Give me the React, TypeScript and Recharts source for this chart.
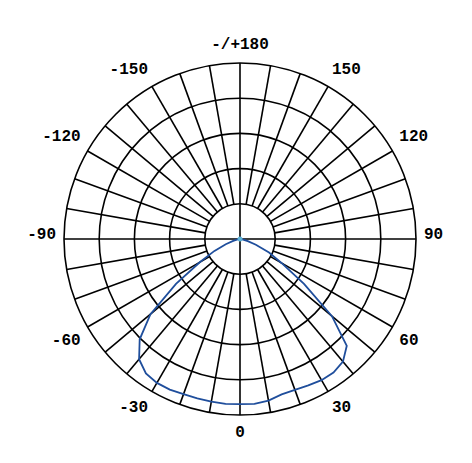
import React from "react";
import { RadarChart, Radar, PolarGrid, PolarAngleAxis, PolarRadiusAxis } from "recharts";

// Angles (deg), 0 = straight down, positive toward the right (C-plane 0-180 style)
const curveAngles = [
  -90, -85, -80, -75, -70, -65, -60, -55, -50, -45, -40, -35, -30, -25, -20, -15, -10, -5,
  0, 5, 10, 15, 20, 25, 30, 35, 40, 45, 50, 55, 60, 65, 70, 75, 80, 85, 90,
];
// Luminous intensity (relative units, outer ring = 500)
const curveValues = [
  0, 3, 9, 20, 43, 80, 131, 222, 332, 403, 446, 466, 472, 472, 469, 469, 469, 470,
  469, 470, 466, 457, 456, 459, 463, 463, 455, 429, 341, 222, 136, 91, 48, 23, 9, 3, 0,
];
// Radial ring values
const ringTicks = [100, 200, 300, 400, 500];
// Radial grid lines every 10 degrees
const spokeAngles = Array.from({ length: 36 }, (_, i) => i * 10);
// Angle labels
const labelAngles = [0, 30, 60, 90, 120, 150, 180, 210, 240, 270, 300, 330];
const labelTexts = ["0", "30", "60", "90", "120", "150", "-/+180", "-150", "-120", "-90", "-60", "-30"];
// Full-diameter axis crosses (through the centre)
const crossAngles = [0, 90, 180, 270];
// Origin marker of the curve
const originAngle = 90;

const STEP = 5;
const data = Array.from({ length: 360 / STEP }, (_, i) => {
  const deg = i * STEP;
  const signed = deg > 180 ? deg - 360 : deg;
  const idx = curveAngles.indexOf(signed);
  return {
    deg,
    value: idx >= 0 ? curveValues[idx] : 0,
    cross: crossAngles.includes(deg) ? ringTicks[0] : 0,
  };
});

const toChartAngle = (deg: number) => deg - 90;

const FONT = "'Liberation Mono', monospace";

const AngleTick = (props: any) => {
  const { x, y, payload, textAnchor } = props;
  const deg = Number(payload.value);
  const li = labelAngles.indexOf(deg);
  if (li < 0) return <g />;
  const label = labelTexts[li];
  const a = (payload.coordinate * Math.PI) / 180;
  const uy = -Math.sin(a);
  const dy = uy > 0.1 ? 10 : uy < -0.1 ? -10 : -4;
  return (
    <text
      x={x}
      y={y + dy}
      textAnchor={textAnchor}
      dominantBaseline="central"
      fontFamily={FONT}
      fontSize={16}
      fontWeight="bold"
      fill="#000"
    >
      {label}
    </text>
  );
};

const OriginDot = (props: any) => {
  const { cx, cy, payload } = props;
  if (!payload || payload.deg !== originAngle) return <g key={props.index} />;
  return <circle key={props.index} cx={cx} cy={cy} r={2.5} fill="#5fb4d8" stroke="none" />;
};

export default function App() {
  return (
    <RadarChart
      width={456}
      height={447}
      data={data}
      cx={232}
      cy={231}
      innerRadius={35.2}
      outerRadius={176}
      startAngle={-90}
      endAngle={270}
      margin={{ top: 0, right: 0, bottom: 0, left: 0 }}
    >
      <PolarGrid
        gridType="circle"
        stroke="#000"
        strokeWidth={1.6}
        strokeOpacity={1}
        polarAngles={spokeAngles.map(toChartAngle)}
      />
      <PolarAngleAxis
        dataKey="deg"
        type="number"
        domain={[0, 360]}
        ticks={labelAngles as any}
        axisLine={false}
        tickLine={false}
        tick={<AngleTick />}
      />
      <PolarRadiusAxis
        domain={[ringTicks[0], ringTicks[ringTicks.length - 1]]}
        ticks={ringTicks as any}
        tickCount={ringTicks.length}
        allowDataOverflow
        axisLine={false}
        tick={false}
      />
      <Radar
        dataKey="cross"
        stroke="#000"
        strokeWidth={1.6}
        fill="none"
        dot={false}
        isAnimationActive={false}
      />
      <Radar
        dataKey="value"
        stroke="#1f4e9c"
        strokeWidth={1.8}
        fill="none"
        dot={OriginDot}
        isAnimationActive={false}
      />
    </RadarChart>
  );
}
